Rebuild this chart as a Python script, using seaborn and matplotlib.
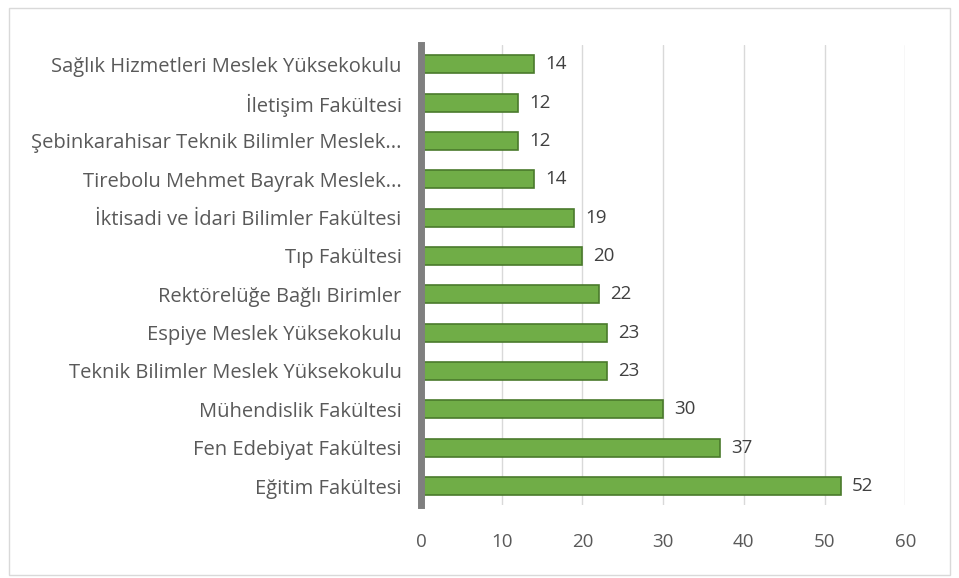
import pandas as pd
import matplotlib.pyplot as plt
import seaborn as sns
from matplotlib.patches import Rectangle

# chart data
units = [
    "Sağlık Hizmetleri Meslek Yüksekokulu",
    "İletişim Fakültesi",
    "Şebinkarahisar Teknik Bilimler Meslek...",
    "Tirebolu Mehmet Bayrak Meslek...",
    "İktisadi ve İdari Bilimler Fakültesi",
    "Tıp Fakültesi",
    "Rektörelüğe Bağlı Birimler",
    "Espiye Meslek Yüksekokulu",
    "Teknik Bilimler Meslek Yüksekokulu",
    "Mühendislik Fakültesi",
    "Fen Edebiyat Fakültesi",
    "Eğitim Fakültesi",
]
counts = [14, 12, 12, 14, 19, 20, 22, 23, 23, 30, 37, 52]
x_ticks = [0, 10, 20, 30, 40, 50, 60]

df = pd.DataFrame({"unit": units, "count": counts})

sns.set_style("white")
plt.rcParams["font.family"] = ["Open Sans", "DejaVu Sans"]

fig = plt.figure(figsize=(9.59, 5.78), dpi=100)
ax = fig.add_axes([0.439, 0.126, 0.505, 0.796])

sns.barplot(data=df, x="count", y="unit", orient="h", color="#70AD47",
            edgecolor="#4A7A2C", linewidth=1.2, width=0.47, saturation=1, ax=ax)

for cont in ax.containers:
    ax.bar_label(cont, padding=8, fontsize=13.5, color="#404040")

ax.set_xlim(0, 60)
ax.set_ylim(len(units) - 0.5, -0.5)
ax.set_xticks(x_ticks)
ax.set_xlabel("")
ax.set_ylabel("")
ax.grid(axis="x", color="#D9D9D9", linewidth=1)
ax.set_axisbelow(True)

ax.tick_params(axis="x", length=0, pad=20, labelsize=13.5, labelcolor="#595959")
ax.tick_params(axis="y", which="major", length=0, pad=14, labelsize=14.5, labelcolor="#595959")
ax.set_yticks([i - 0.5 for i in range(len(units) + 1)], minor=True)
ax.tick_params(axis="y", which="minor", length=6, color="#BFBFBF", width=1)

for s in ["top", "right", "bottom"]:
    ax.spines[s].set_visible(False)
ax.spines["left"].set_color("#7F7F7F")
ax.spines["left"].set_linewidth(5)

fig.patches.append(Rectangle((0.009, 0.005), 0.982, 0.982, transform=fig.transFigure,
                             fill=False, edgecolor="#D9D9D9", linewidth=1))

fig.savefig("out.png", dpi=100)
